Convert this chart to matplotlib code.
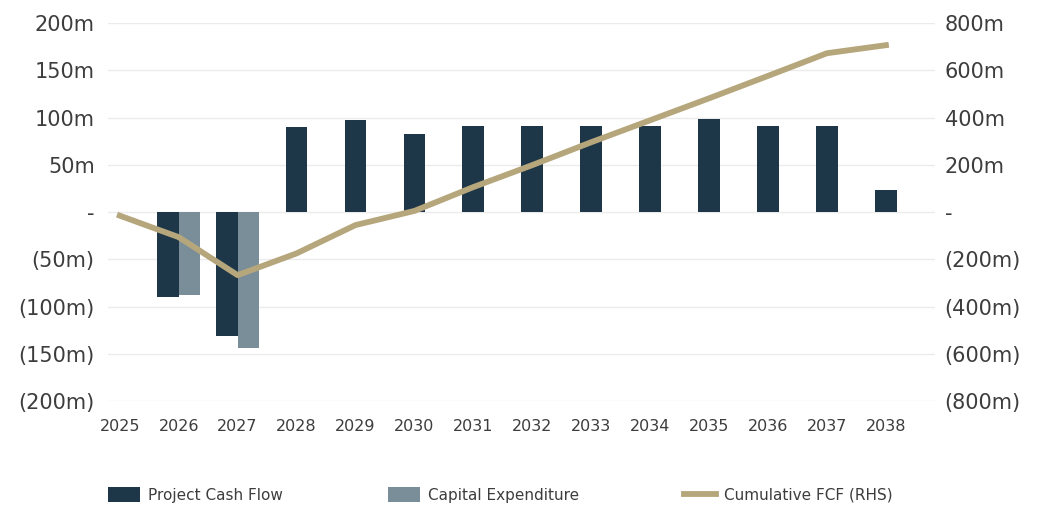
import matplotlib.pyplot as plt
from matplotlib.ticker import FuncFormatter, MultipleLocator
import numpy as np

years = ['2025', '2026', '2027', '2028', '2029', '2030', '2031',
         '2032', '2033', '2034', '2035', '2036', '2037', '2038']
project_cash_flow = [0, -90, -131, 90, 98, 83, 91, 91, 91, 91, 99, 91, 91, 23]
capital_expenditure = [0, -88, -144, 0, 0, 0, 0, 0, 0, 0, 0, 0, 0, 0]
cumulative_fcf = [-15, -106, -267, -175, -55, 5, 106, 199, 296, 389, 482, 577, 673, 707]

NAVY = '#1d3749'
SLATE = '#7a8e9a'
GOLD = '#b6a67c'
TEXT = '#3d3d3d'


def fmt_m(v, pos):
    if abs(v) < 1e-9:
        return '-'
    if v < 0:
        return f'({abs(v):.0f}m)'
    return f'{v:.0f}m'


fig = plt.figure(figsize=(10.48, 5.05), dpi=100)
ax = fig.add_axes([0.103, 0.206, 0.789, 0.748])

x = np.arange(len(years))
w = 0.37
pcf = np.array(project_cash_flow)
capex = np.array(capital_expenditure)
# years with capex show the two bars side by side, otherwise the cash flow bar is centred
paired = capex != 0
ax.bar(x - np.where(paired, w / 2, 0), pcf, width=w, color=NAVY, zorder=2,
       label='Project Cash Flow')
ax.bar(x[paired] + w / 2, capex[paired], width=w, color=SLATE, zorder=2,
       label='Capital Expenditure')

ax.set_ylim(-200, 200)
ax.yaxis.set_major_locator(MultipleLocator(50))
ax.yaxis.set_major_formatter(FuncFormatter(fmt_m))
ax.set_xlim(-0.2, 13.83)
ax.set_xticks(x)
ax.set_xticklabels(years)
ax.grid(axis='y', color='#ebebeb', linewidth=1.0, zorder=0)
ax.set_axisbelow(True)
ax.tick_params(axis='y', length=0, pad=9.5, labelsize=15, labelcolor=TEXT)
ax.tick_params(axis='x', length=0, pad=13, labelsize=11.5, labelcolor=TEXT)
for s in ax.spines.values():
    s.set_visible(False)

ax2 = ax.twinx()
ax2.plot(x, cumulative_fcf, color=GOLD, linewidth=4.2, zorder=3,
         solid_joinstyle='round', label='Cumulative FCF (RHS)')
ax2.set_ylim(-800, 800)
ax2.yaxis.set_major_locator(MultipleLocator(200))
ax2.yaxis.set_major_formatter(FuncFormatter(fmt_m))
ax2.tick_params(axis='y', length=0, pad=7, labelsize=15, labelcolor=TEXT)
for s in ax2.spines.values():
    s.set_visible(False)

h1, l1 = ax.get_legend_handles_labels()
h2, l2 = ax2.get_legend_handles_labels()
fig.legend(h1 + h2, l1 + l2, loc='lower left', bbox_to_anchor=(0.0915, -0.02),
           ncol=3, frameon=False, fontsize=11, labelcolor=TEXT,
           handlelength=2.1, handleheight=1.1, handletextpad=0.5,
           columnspacing=6.9, borderpad=0.3)

fig.savefig('out.png', dpi=100, facecolor='white')
